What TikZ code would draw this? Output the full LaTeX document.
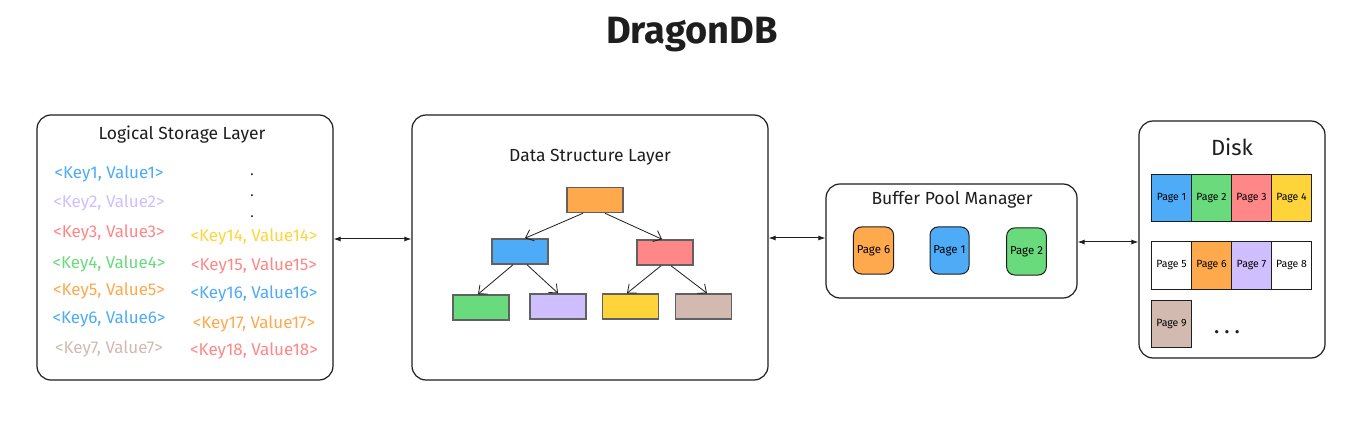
\documentclass[tikz,border=0pt]{standalone}
\usepackage{fontspec}
\setmainfont{Fira Sans}
\usetikzlibrary{arrows.meta}

\definecolor{exblue}{HTML}{4DABF7}
\definecolor{expurple}{HTML}{D0BFFF}
\definecolor{exred}{HTML}{FF8787}
\definecolor{exgreen}{HTML}{69DB7C}
\definecolor{exorange}{HTML}{FFA94D}
\definecolor{exyellow}{HTML}{FFD43B}
\definecolor{exbrown}{HTML}{D2BAB0}
\definecolor{exink}{HTML}{1E1E1E}

\tikzset{
    layer/.style={draw=exink, line width=1.2pt, rounded corners=14pt, fill=white},
    layertitle/.style={font=\fontsize{17.5}{20}\selectfont, text=exink},
    kv/.style={font=\fontsize{17}{20}\selectfont},
    treebox/.style={draw=exink!70, line width=1.5pt, minimum width=56pt, minimum height=25pt},
    bufpage/.style={draw=exink, line width=1pt, rounded corners=8pt, minimum width=39pt, minimum height=47pt, font=\fontsize{11.5}{13}\selectfont},
    diskpage/.style={draw=exink, line width=1pt, minimum width=40pt, minimum height=47pt, font=\fontsize{10.5}{12}\selectfont},
    treelink/.style={draw=exink, line width=0.8pt, -{Straight Barb[length=7pt,width=12pt]}},
    link/.style={draw=exink, line width=1pt, {Latex[length=7pt,width=5pt]}-{Latex[length=7pt,width=5pt]}},
}

\begin{document}
\begin{tikzpicture}[x=1pt, y=-1pt]
    \useasboundingbox[fill=white] (0,0) rectangle (1368,422);

    % title
    \node[font=\fontsize{38}{42}\selectfont\bfseries, text=exink] (title) at (692,35) {DragonDB};

    % layers
    \node[layer, minimum width=296pt, minimum height=265pt] (lsl) at (185,247.5) {};
    \node[layer, minimum width=356pt, minimum height=265pt] (dsl) at (590,247.5) {};
    \node[layer, minimum width=251pt, minimum height=114pt] (bpm) at (951.5,241) {};
    \node[layer, minimum width=186pt, minimum height=237pt] (disk) at (1232,239.5) {};

    \node[layertitle] (lsltitle) at (182,135) {Logical Storage Layer};
    \node[layertitle] (dsltitle) at (590,157) {Data Structure Layer};
    \node[layertitle] (bpmtitle) at (952,200) {Buffer Pool Manager};
    \node[layertitle, font=\fontsize{22}{24}\selectfont] (disktitle) at (1232,147) {Disk};

    % key/value pairs
    \foreach \k/\c/\x/\y in {1/exblue/109/174, 2/expurple/109/203, 3/exred/109/233,
                             4/exgreen/109/264, 5/exorange/109/291, 6/exblue/109/319,
                             7/exbrown/109/349, 14/exyellow/254/237, 15/exred/254/266,
                             16/exblue/254/294, 17/exorange/254/324, 18/exred/254/351}
        \node[kv, text=\c] (kv\k) at (\x,\y) {<Key\k, Value\k>};
    \node[kv, text=exink, align=center, inner sep=0pt, font=\fontsize{14}{21}\selectfont] (kvdots) at (252,196) {.\\.\\.};

    % tree
    \node[treebox, fill=exorange] (root) at (595,200) {};
    \node[treebox, fill=exblue] (left) at (520,251.5) {};
    \node[treebox, fill=exred] (right) at (665,252.5) {};
    \node[treebox, fill=exgreen] (ll) at (481,307.5) {};
    \node[treebox, fill=expurple] (lr) at (558,306.5) {};
    \node[treebox, fill=exyellow] (rl) at (630.5,306.5) {};
    \node[treebox, fill=exbrown] (rr) at (703.5,306.5) {};

    \draw[treelink] ([xshift=-12pt]root.south) -- ([xshift=5pt]left.north);
    \draw[treelink] ([xshift=10pt]root.south) -- ([xshift=-3pt]right.north);
    \draw[treelink] ([xshift=-7pt]left.south) -- ([xshift=-3pt]ll.north);
    \draw[treelink] ([xshift=7pt]left.south) -- (lr.north);
    \draw[treelink] ([xshift=-4pt]right.south) -- ([xshift=-3.5pt]rl.north);
    \draw[treelink] ([xshift=6pt]right.south) -- ([xshift=3.5pt]rr.north);

    % buffer pool pages
    \node[bufpage, fill=exorange] (bp6) at (873.5,250.5) {Page 6};
    \node[bufpage, fill=exblue] (bp1) at (949.5,250.5) {Page 1};
    \node[bufpage, fill=exgreen] (bp2) at (1026.5,251.5) {Page 2};

    % disk pages
    \foreach \p/\c/\x/\y in {1/exblue/1171.5/198.5, 2/exgreen/1211.5/198.5,
                             3/exred/1251.5/198.5, 4/exyellow/1291.5/198.5,
                             5/white/1171.5/265.5, 6/exorange/1211.5/265.5,
                             7/expurple/1251.5/265.5, 8/white/1291.5/265.5,
                             9/exbrown/1171.5/324}
        \node[diskpage, fill=\c] (dp\p) at (\x,\y) {Page \p};
    \node[font=\fontsize{18}{20}\selectfont\bfseries, text=exink] (diskdots) at (1227,332) {.\hspace{6pt}.\hspace{6pt}.};

    % connectors between layers
    \draw[link] ([yshift=8.5pt]lsl.east) -- ([yshift=8.5pt]dsl.west);
    \draw[link] ([yshift=9.5pt]dsl.east) -- ([yshift=3pt]bpm.west);
    \draw[link] ([yshift=-1pt]bpm.east) -- ([yshift=-2.5pt]disk.west);
\end{tikzpicture}
\end{document}
